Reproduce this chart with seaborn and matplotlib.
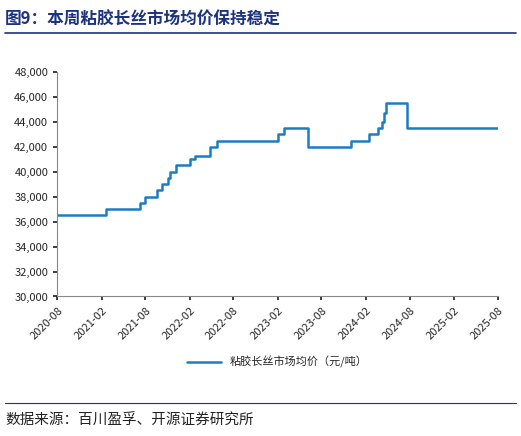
import matplotlib
matplotlib.use("Agg")
import matplotlib.pyplot as plt
import seaborn as sns
import pandas as pd

dates = ["2020-08-01","2021-02-17","2021-07-10","2021-08-01","2021-09-20","2021-10-10","2021-11-03",
         "2021-11-12","2021-11-25","2021-12-06","2022-02-04","2022-02-25","2022-04-27","2022-05-25",
         "2023-02-01","2023-03-01","2023-06-07","2023-12-01","2024-02-13","2024-03-25","2024-04-10",
         "2024-04-18","2024-04-25","2024-07-22","2025-08-01"]
prices = [36500,37000,37500,38000,38500,39000,39500,40000,40000,40500,41000,41300,42000,42500,
          43000,43500,42000,42500,43000,43500,44000,44700,45500,43500,43500]
series_name = "粘胶长丝市场均价（元/吨）"
ticks = ["2020-08","2021-02","2021-08","2022-02","2022-08","2023-02","2023-08","2024-02","2024-08","2025-02","2025-08"]

sns.set_theme(style="white")
plt.rcParams['font.family'] = ['Noto Sans CJK SC', 'DejaVu Sans']
df = pd.DataFrame({"date": pd.to_datetime(dates), "price": prices})

fig = plt.figure(figsize=(5.21, 4.36), dpi=100)
ax = fig.add_axes([0.11, 0.32, 0.845, 0.515])
sns.lineplot(data=df, x="date", y="price", ax=ax, color="#1a7dc4", lw=1.8, drawstyle="steps-post", label=series_name)
ax.set_xlim(pd.Timestamp("2020-08-01"), pd.Timestamp("2025-08-01"))
ax.set_ylim(30000, 48000)
ax.set_yticks(range(30000, 48001, 2000))
ax.yaxis.set_major_formatter(matplotlib.ticker.FuncFormatter(lambda v, p: f"{int(v):,}"))
ax.set_xticks(pd.to_datetime(ticks))
ax.set_xticklabels(ticks, rotation=45, ha="right", rotation_mode="anchor")
ax.tick_params(labelsize=8, length=3, direction="out", left=True, bottom=True)
ax.set_xlabel(""); ax.set_ylabel("")
for s in ["top", "right"]:
    ax.spines[s].set_visible(False)
for s in ["left", "bottom"]:
    ax.spines[s].set_color("#888888"); ax.spines[s].set_linewidth(0.8)
ax.legend(loc="upper center", bbox_to_anchor=(0.5, -0.22), frameon=False, fontsize=8, handlelength=3)

fig.text(0.01, 0.955, "图9：本周粘胶长丝市场均价保持稳定", fontsize=12, fontweight="bold", color="#1c3380", va="center")
fig.add_artist(plt.Line2D([0.01, 0.99], [0.925, 0.925], color="#1c3380", lw=1.2))
fig.add_artist(plt.Line2D([0.01, 0.99], [0.075, 0.075], color="#1c3380", lw=0.8))
fig.text(0.01, 0.035, "数据来源：百川盈孚、开源证券研究所", fontsize=10.5, color="#222222", va="center")
fig.savefig("out.png", dpi=100)
